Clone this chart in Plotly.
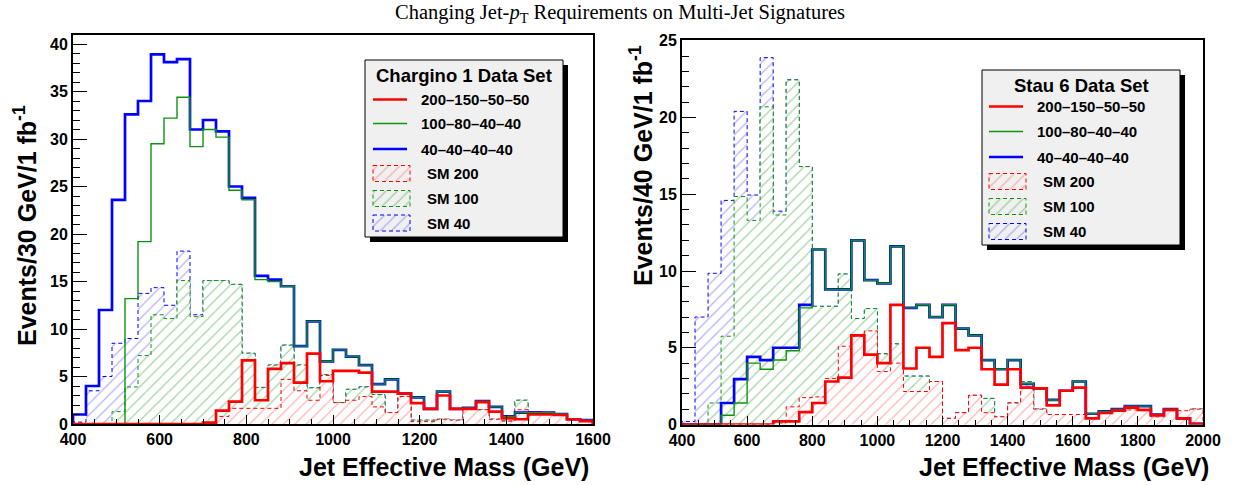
import plotly.graph_objects as go

# ---------------- data ----------------
# Left panel: Chargino 1, 30 GeV bins from 400 to 1600
L_START, L_BIN, L_NBINS = 400, 30, 40
L_200 = [0, 0, 0, 0, 0, 0, 0, 0, 0, 0, 0.15, 1.4, 2.35, 6.7, 2.5, 5.8, 6.4, 4.35, 7.4, 4.5,
         5.6, 5.6, 5.4, 3.4, 3.4, 3.2, 2.2, 1.6, 3.0, 1.6, 1.6, 2.3, 1.3, 0.6, 0.5, 1.0, 1.0, 0.95, 0.5, 0.3]
L_100 = [0, 0, 0, 0, 13.2, 19.2, 29.5, 32.2, 34.4, 29.2, 31.0, 30.2, 24.6, 23.6, 15.2, 15.0, 14.5, 8.2, 10.8, 6.6,
         7.8, 7.1, 6.2, 4.2, 4.7, 3.2, 2.8, 1.6, 3.4, 1.6, 1.7, 2.4, 1.8, 0.8, 1.2, 1.2, 1.2, 1.05, 0.5, 0.4]
L_40 = [1.0, 4.0, 12.0, 23.6, 32.6, 34.0, 38.9, 38.1, 38.4, 31.0, 32.0, 30.8, 25.0, 23.8, 15.6, 15.2, 14.5, 8.2, 10.8, 6.6,
        7.8, 7.1, 6.2, 4.2, 4.7, 3.2, 2.8, 1.6, 3.4, 1.6, 1.7, 2.4, 1.8, 0.8, 1.2, 1.2, 1.2, 1.05, 0.5, 0.4]
L_SM200 = [0, 0, 0, 0, 0, 0, 0, 0, 0, 0, 0, 0.8, 1.65, 1.65, 1.65, 1.65, 4.7, 3.5, 2.5, 5.1,
           2.25, 2.5, 2.9, 1.8, 1.2, 2.9, 0.25, 0.25, 0.5, 0.4, 1.65, 1.5, 0.5, 0.3, 1.5, 1.3, 1.2, 1.0, 0.4, 0.25]
L_SM100 = [0, 0, 0, 1.3, 3.9, 7.2, 11.5, 11.1, 15.1, 11.3, 15.1, 15.1, 14.7, 7.45, 3.85, 6.2, 8.3, 6.2, 3.8, 5.2,
           2.25, 3.65, 3.9, 3.1, 1.2, 2.9, 0.4, 0.4, 0.5, 0.4, 1.7, 1.5, 0.5, 0.3, 2.5, 1.3, 1.2, 1.0, 0.4, 0.25]
L_SM40 = [0.2, 3.5, 5.0, 8.5, 9.0, 13.75, 14.35, 12.5, 18.2, 11.5, 15.1, 15.1, 14.7, 7.45, 3.85, 6.2, 8.3, 6.2, 3.8, 5.2,
          2.25, 3.65, 3.9, 3.1, 1.2, 2.9, 0.4, 0.4, 0.5, 0.4, 1.7, 1.5, 0.5, 0.3, 2.5, 1.3, 1.2, 1.0, 0.4, 0.25]

# Right panel: Stau 6, 40 GeV bins from 400 to 2000
R_START, R_BIN, R_NBINS = 400, 40, 40
R_200 = [0, 0, 0, 0, 0, 0, 0, 0.2, 0.2, 0.8, 1.4, 2.8, 3.05, 5.8, 4.55, 4.0, 7.8, 3.65, 5.0, 4.4,
         6.6, 4.85, 5.0, 3.6, 2.6, 3.6, 2.4, 2.35, 1.25, 2.2, 2.4, 0.4, 0.75, 0.9, 1.1, 0.95, 0.6, 0.95, 0.4, 0.05]
R_100 = [0, 0, 0, 0.6, 1.4, 4.0, 3.6, 4.2, 4.8, 7.6, 11.4, 8.8, 8.8, 12.0, 9.4, 9.2, 11.6, 7.6, 7.8, 7.0,
         7.8, 6.25, 5.8, 4.2, 3.6, 4.2, 2.65, 2.35, 1.6, 2.2, 2.8, 0.7, 0.85, 1.0, 1.2, 1.2, 0.65, 1.0, 0.4, 0.05]
R_40 = [0, 0, 0, 1.4, 2.95, 4.4, 4.2, 5.0, 5.0, 7.8, 11.4, 8.8, 8.8, 12.0, 9.4, 9.2, 11.6, 7.6, 7.8, 7.0,
        7.8, 6.25, 5.8, 4.2, 3.6, 4.2, 2.65, 2.35, 1.6, 2.2, 2.8, 0.7, 0.85, 1.0, 1.2, 1.2, 0.65, 1.0, 0.4, 0.05]
R_SM200 = [0, 0, 0, 0, 0, 0, 0, 0.1, 1.15, 1.75, 1.8, 3.0, 5.1, 5.75, 6.1, 3.45, 4.0, 2.15, 2.15, 2.8,
           0.4, 0.77, 1.9, 0.77, 0.5, 1.4, 2.45, 1.0, 0.65, 0.65, 0.65, 0.65, 0.85, 0.95, 0.95, 0.9, 0.5, 0.9, 0.9, 1.0]
R_SM100 = [0, 0, 1.4, 5.75, 14.85, 13.3, 20.7, 13.65, 22.45, 16.8, 7.7, 7.7, 9.8, 6.9, 7.55, 4.6, 5.25, 3.15, 3.15, 2.8,
           0.4, 0.77, 1.9, 1.7, 0.5, 1.4, 2.8, 1.0, 0.3, 0.3, 0.3, 0.3, 0.4, 0.5, 0.5, 0.5, 0.4, 0.5, 0.5, 1.0]
R_SM40 = [0.2, 7.0, 9.85, 14.6, 20.4, 14.95, 23.9, 13.9, 22.45, 16.8, 7.7, 7.7, 9.8, 6.9, 7.55, 4.6, 5.25, 3.15, 3.15, 2.8,
          0.4, 0.77, 1.9, 1.7, 0.5, 1.4, 2.8, 1.0, 0.3, 0.3, 0.3, 0.3, 0.4, 0.5, 0.5, 0.5, 0.4, 0.5, 0.5, 1.0]

LINE_NAMES = ["200–150–50–50", "100–80–40–40", "40–40–40–40"]
SM_NAMES = ["SM 200", "SM 100", "SM 40"]
LEFT_XTICKS = [400, 600, 800, 1000, 1200, 1400, 1600]
RIGHT_XTICKS = [400, 600, 800, 1000, 1200, 1400, 1600, 1800, 2000]
TITLE = "Changing Jet-<i>p</i><sub>T</sub> Requirements on Multi-Jet Signatures"
XTITLE = "Jet Effective Mass (GeV)"
YTITLE_L = "Events/30 GeV/1 fb<sup>-1</sup>"
YTITLE_R = "Events/40 GeV/1 fb<sup>-1</sup>"
LEG_TITLE_L = "Chargino 1 Data Set"
LEG_TITLE_R = "Stau 6 Data Set"

# ---------------- helpers ----------------
def edges(start, width, n):
    return [start + width * i for i in range(n + 1)]

def step_xy(e, vals):
    x = [e[0]] + list(e) + [e[-1]]
    y = [0] + list(vals) + [vals[-1], 0]
    return x, y

RED, GREEN, BLUE = "#ff0000", "#0f930f", "#0000ff"
HATCH_RED, HATCH_GREEN, HATCH_BLUE = "#ff6a6a", "#45a845", "#6464ff"
FONT = "Liberation Sans"
W, H = 1233, 485

fig = go.Figure()

def hatch(col, bg="rgba(0,0,0,0)"):
    return dict(shape="/", fgcolor=col, bgcolor=bg, size=8, solidity=0.15)

def add_panel(xa, ya, e, sm40, sm100, sm200, h40, h100, h200):
    for vals, col, hc, bg in [(sm40, BLUE, HATCH_BLUE, "rgba(0,0,0,0)"),
                               (sm100, GREEN, HATCH_GREEN, "white"),
                               (sm200, RED, HATCH_RED, "white")]:
        x, y = step_xy(e, vals)
        fig.add_trace(go.Scatter(
            x=x, y=y, mode="lines", line=dict(color=col, width=1, dash="4px,3px", shape="hv"),
            fill="tozeroy", fillcolor="rgba(0,0,0,0)", fillpattern=hatch(hc, bg),
            showlegend=False, xaxis=xa, yaxis=ya, hoverinfo="skip"))
    for vals, col, w in [(h40, BLUE, 2.7), (h100, GREEN, 1.4), (h200, RED, 2.7)]:
        x, y = step_xy(e, vals)
        fig.add_trace(go.Scatter(
            x=x, y=y, mode="lines", line=dict(color=col, width=w, shape="hv"),
            showlegend=False, xaxis=xa, yaxis=ya, hoverinfo="skip"))

add_panel("x", "y", edges(L_START, L_BIN, L_NBINS), L_SM40, L_SM100, L_SM200, L_40, L_100, L_200)
add_panel("x2", "y2", edges(R_START, R_BIN, R_NBINS), R_SM40, R_SM100, R_SM200, R_40, R_100, R_200)

# ---------------- legends drawn in a pixel-coordinate overlay (x3/y3) ----------------
def rect(x0, y0, x1, y1):
    return [x0, x1, x1, x0, x0], [y0, y0, y1, y1, y0]

def pix_trace(x, y, **kw):
    fig.add_trace(go.Scatter(x=x, y=y, xaxis="x3", yaxis="y3", showlegend=False,
                             hoverinfo="skip", **kw))

def draw_legend(bx0, by0, bx1, by1, title, title_cy, item_ys, sx0, sx1, tx_line, tx_sm):
    x, y = rect(bx0 + 5, by0 + 5, bx1 + 5, by1 + 5)
    pix_trace(x, y, mode="lines", fill="toself", fillcolor="black", line=dict(width=0, color="black"))
    x, y = rect(bx0, by0, bx1, by1)
    pix_trace(x, y, mode="lines", fill="toself", fillcolor="#f0f0f0", line=dict(width=1, color="black"))
    fig.add_annotation(text="<b>" + title + "</b>", xref="x3", yref="y3", x=(bx0 + bx1) / 2, y=title_cy,
                       xanchor="center", yanchor="middle", showarrow=False,
                       font=dict(family=FONT, size=18.5, color="black"))
    for i, (name, col, w) in enumerate([(LINE_NAMES[0], RED, 2.7), (LINE_NAMES[1], GREEN, 1.4),
                                         (LINE_NAMES[2], BLUE, 2.7)]):
        yc = item_ys[i]
        pix_trace([sx0, sx1], [yc, yc], mode="lines", line=dict(color=col, width=w))
        fig.add_annotation(text="<b>" + name + "</b>", xref="x3", yref="y3", x=tx_line, y=yc,
                           xanchor="left", yanchor="middle", showarrow=False,
                           font=dict(family=FONT, size=15, color="black"))
    for i, (name, col, hc) in enumerate([(SM_NAMES[0], RED, HATCH_RED), (SM_NAMES[1], GREEN, HATCH_GREEN),
                                          (SM_NAMES[2], BLUE, HATCH_BLUE)]):
        yc = item_ys[3 + i]
        x, y = rect(sx0, yc - 8, sx1 + 3, yc + 8)
        pix_trace(x, y, mode="lines", fill="toself", fillcolor="rgba(0,0,0,0)", fillpattern=hatch(hc),
                  line=dict(color=col, width=1, dash="4px,3px"))
        fig.add_annotation(text="<b>" + name + "</b>", xref="x3", yref="y3", x=tx_sm, y=yc,
                           xanchor="left", yanchor="middle", showarrow=False,
                           font=dict(family=FONT, size=15, color="black"))

draw_legend(365, 60, 563, 237, LEG_TITLE_L, 75.5, [99.5, 123.5, 149, 173.5, 198.5, 223],
            373, 407, 419, 425)
draw_legend(982, 70, 1180, 245, LEG_TITLE_R, 85, [106.5, 131.5, 157, 181.5, 206.5, 231.5],
            989, 1023, 1035, 1041)

# ---------------- axes (positions given in screen pixels) ----------------
def px(xp):
    return xp / W
def py(yp):
    return 1 - yp / H

tickfont = dict(family=FONT, size=16, color="black", weight="bold")

def xaxis_cfg(domain, rng, ticks, anchor):
    return dict(domain=domain, range=rng, tickvals=ticks, ticktext=[str(t) for t in ticks],
                ticks="inside", ticklen=9, tickwidth=1.2, tickcolor="black",
                minor=dict(ticks="inside", ticklen=5, dtick=50, tickcolor="black", tickwidth=1),
                showline=True, linecolor="black", linewidth=2, mirror=True,
                showgrid=False, zeroline=False, tickfont=tickfont, anchor=anchor, automargin=False)

def yaxis_cfg(domain, rng, anchor):
    return dict(domain=domain, range=rng, dtick=5, tick0=0,
                ticks="inside", ticklen=14, tickwidth=1.2, tickcolor="black",
                minor=dict(ticks="inside", ticklen=7, dtick=1, tickcolor="black", tickwidth=1),
                showline=True, linecolor="black", linewidth=2, mirror=True,
                showgrid=False, zeroline=False, tickfont=tickfont, anchor=anchor, automargin=False)

fig.update_layout(
    width=W, height=H, margin=dict(l=0, r=0, t=0, b=0, autoexpand=False),
    paper_bgcolor="white", plot_bgcolor="rgba(0,0,0,0)", showlegend=False,
    xaxis=xaxis_cfg([px(73), px(593)], [400, 1600], LEFT_XTICKS, "y"),
    yaxis=yaxis_cfg([py(424), py(35)], [0, 40.95], "x"),
    xaxis2=xaxis_cfg([px(682), px(1203)], [400, 2000], RIGHT_XTICKS, "y2"),
    yaxis2=yaxis_cfg([py(424.5), py(40)], [0, 25.05], "x2"),
    xaxis3=dict(domain=[0, 1], range=[0, W], visible=False, anchor="y3", fixedrange=True),
    yaxis3=dict(domain=[0, 1], range=[H, 0], visible=False, anchor="x3", fixedrange=True),
)

ann_font = dict(family=FONT, size=25, color="black", weight="bold")
fig.add_annotation(text=TITLE, xref="x3", yref="y3", x=620, y=13, showarrow=False,
                   xanchor="center", yanchor="middle",
                   font=dict(family="Liberation Serif", size=20.5, color="black"))
fig.add_annotation(text=XTITLE, xref="x3", yref="y3", x=591, y=467, xanchor="right", yanchor="middle",
                   showarrow=False, font=ann_font)
fig.add_annotation(text=XTITLE, xref="x3", yref="y3", x=1211, y=467, xanchor="right", yanchor="middle",
                   showarrow=False, font=ann_font)
fig.add_annotation(text=YTITLE_L, xref="x3", yref="y3", x=25, y=226, xanchor="center", yanchor="middle",
                   textangle=-90, showarrow=False, font=ann_font)
fig.add_annotation(text=YTITLE_R, xref="x3", yref="y3", x=641, y=166, xanchor="center", yanchor="middle",
                   textangle=-90, showarrow=False, font=ann_font)

fig.write_html("out.html", config={"displayModeBar": False},
               post_script="document.body.style.margin='0px';")
